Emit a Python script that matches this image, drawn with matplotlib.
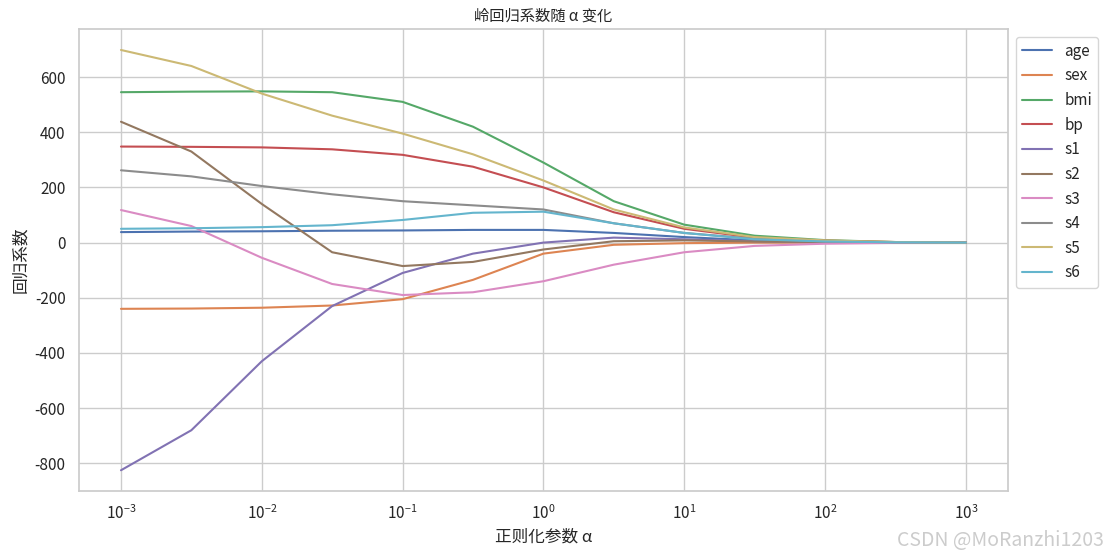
import numpy as np
import matplotlib
matplotlib.use("Agg")
import matplotlib.pyplot as plt
import seaborn as sns

cjk = ["Noto Sans CJK SC", "Noto Sans CJK JP", "Noto Sans CJK TC", "Noto Sans CJK KR", "DejaVu Sans"]
sns.set_theme(style="whitegrid", font=cjk[0])
plt.rcParams["font.family"] = "sans-serif"
plt.rcParams["font.sans-serif"] = cjk
plt.rcParams["axes.unicode_minus"] = False

alphas = [1e-3, 3.16e-3, 1e-2, 3.16e-2, 1e-1, 3.16e-1, 1, 3.16, 10, 31.6, 100, 316, 1000]
features = ["age", "sex", "bmi", "bp", "s1", "s2", "s3", "s4", "s5", "s6"]
age = [38, 40, 41, 43, 44, 46, 46, 35, 20, 8, 3, 1, 0]
sex = [-240, -239, -236, -228, -205, -135, -40, -8, -2, 0, 0, 0, 0]
bmi = [545, 547, 548, 545, 510, 420, 290, 150, 65, 25, 9, 2, 0]
bp = [348, 347, 345, 338, 318, 275, 200, 110, 50, 18, 7, 2, 0]
s1 = [-825, -680, -430, -230, -110, -40, 0, 18, 12, 5, 2, 0, 0]
s2 = [438, 330, 140, -35, -85, -70, -25, 5, 8, 4, 2, 0, 0]
s3 = [118, 60, -55, -150, -190, -180, -140, -80, -35, -12, -4, -1, 0]
s4 = [262, 240, 205, 175, 150, 135, 120, 70, 35, 14, 5, 1, 0]
s5 = [698, 640, 540, 460, 395, 320, 225, 120, 55, 20, 8, 2, 0]
s6 = [50, 52, 56, 63, 82, 108, 112, 70, 35, 12, 4, 1, 0]
series = [age, sex, bmi, bp, s1, s2, s3, s4, s5, s6]

fig, ax = plt.subplots(figsize=(11.09, 5.57), dpi=100)
for name, vals in zip(features, series):
    ax.plot(alphas, vals, label=name, linewidth=1.5)
ax.set_xscale("log")
ax.set_xlabel("正则化参数 α")
ax.set_ylabel("回归系数")
ax.set_title("岭回归系数随 α 变化", fontsize=11)
ax.legend(loc="upper left", bbox_to_anchor=(1.0, 1.0))
fig.subplots_adjust(left=0.071, right=0.909, top=0.948, bottom=0.118)
fig.text(0.995, 0.01, "CSDN @MoRanzhi1203", ha="right", va="bottom", fontsize=14, color="#cccccc")
fig.savefig("out.png", dpi=100)
